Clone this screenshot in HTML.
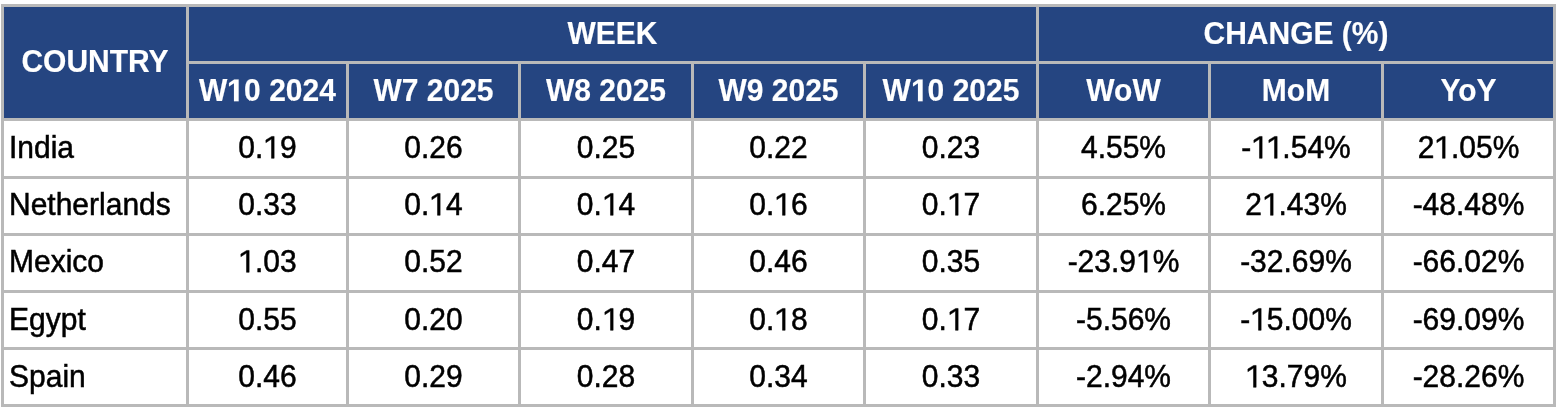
<!DOCTYPE html>
<html><head><meta charset="utf-8">
<style>
html,body{margin:0;padding:0;background:#ffffff;width:1563px;height:409px;overflow:hidden;position:relative}
.b{position:absolute}
.t{position:absolute;font-family:"Liberation Sans",sans-serif;font-size:30px;white-space:nowrap;height:40px;line-height:40px;transform:scaleY(1.06);transform-origin:50% 30px;will-change:transform}
.h{color:#ffffff;font-weight:bold;-webkit-text-stroke:0.15px #ffffff}
.one{vertical-align:baseline;overflow:visible}
.d{color:#000000;-webkit-text-stroke:0.5px #000000}
</style></head><body>
<div class="b" style="left:1px;top:4px;width:1555px;height:403px;background:#b9b9b9"></div>
<div class="b" style="left:4px;top:7px;width:182px;height:111px;background:#254581"></div>
<div class="b" style="left:189px;top:7px;width:847px;height:54px;background:#254581"></div>
<div class="b" style="left:1039px;top:7px;width:514px;height:54px;background:#254581"></div>
<div class="b" style="left:189px;top:64px;width:157px;height:54px;background:#254581"></div>
<div class="b" style="left:349px;top:64px;width:169px;height:54px;background:#254581"></div>
<div class="b" style="left:521px;top:64px;width:170px;height:54px;background:#254581"></div>
<div class="b" style="left:694px;top:64px;width:169px;height:54px;background:#254581"></div>
<div class="b" style="left:866px;top:64px;width:170px;height:54px;background:#254581"></div>
<div class="b" style="left:1039px;top:64px;width:169px;height:54px;background:#254581"></div>
<div class="b" style="left:1211px;top:64px;width:170px;height:54px;background:#254581"></div>
<div class="b" style="left:1384px;top:64px;width:169px;height:54px;background:#254581"></div>
<div class="b" style="left:4px;top:121px;width:182px;height:55px;background:#ffffff"></div>
<div class="b" style="left:189px;top:121px;width:157px;height:55px;background:#ffffff"></div>
<div class="b" style="left:349px;top:121px;width:169px;height:55px;background:#ffffff"></div>
<div class="b" style="left:521px;top:121px;width:170px;height:55px;background:#ffffff"></div>
<div class="b" style="left:694px;top:121px;width:169px;height:55px;background:#ffffff"></div>
<div class="b" style="left:866px;top:121px;width:170px;height:55px;background:#ffffff"></div>
<div class="b" style="left:1039px;top:121px;width:169px;height:55px;background:#ffffff"></div>
<div class="b" style="left:1211px;top:121px;width:170px;height:55px;background:#ffffff"></div>
<div class="b" style="left:1384px;top:121px;width:169px;height:55px;background:#ffffff"></div>
<div class="b" style="left:4px;top:179px;width:182px;height:54px;background:#ffffff"></div>
<div class="b" style="left:189px;top:179px;width:157px;height:54px;background:#ffffff"></div>
<div class="b" style="left:349px;top:179px;width:169px;height:54px;background:#ffffff"></div>
<div class="b" style="left:521px;top:179px;width:170px;height:54px;background:#ffffff"></div>
<div class="b" style="left:694px;top:179px;width:169px;height:54px;background:#ffffff"></div>
<div class="b" style="left:866px;top:179px;width:170px;height:54px;background:#ffffff"></div>
<div class="b" style="left:1039px;top:179px;width:169px;height:54px;background:#ffffff"></div>
<div class="b" style="left:1211px;top:179px;width:170px;height:54px;background:#ffffff"></div>
<div class="b" style="left:1384px;top:179px;width:169px;height:54px;background:#ffffff"></div>
<div class="b" style="left:4px;top:236px;width:182px;height:54px;background:#ffffff"></div>
<div class="b" style="left:189px;top:236px;width:157px;height:54px;background:#ffffff"></div>
<div class="b" style="left:349px;top:236px;width:169px;height:54px;background:#ffffff"></div>
<div class="b" style="left:521px;top:236px;width:170px;height:54px;background:#ffffff"></div>
<div class="b" style="left:694px;top:236px;width:169px;height:54px;background:#ffffff"></div>
<div class="b" style="left:866px;top:236px;width:170px;height:54px;background:#ffffff"></div>
<div class="b" style="left:1039px;top:236px;width:169px;height:54px;background:#ffffff"></div>
<div class="b" style="left:1211px;top:236px;width:170px;height:54px;background:#ffffff"></div>
<div class="b" style="left:1384px;top:236px;width:169px;height:54px;background:#ffffff"></div>
<div class="b" style="left:4px;top:293px;width:182px;height:54px;background:#ffffff"></div>
<div class="b" style="left:189px;top:293px;width:157px;height:54px;background:#ffffff"></div>
<div class="b" style="left:349px;top:293px;width:169px;height:54px;background:#ffffff"></div>
<div class="b" style="left:521px;top:293px;width:170px;height:54px;background:#ffffff"></div>
<div class="b" style="left:694px;top:293px;width:169px;height:54px;background:#ffffff"></div>
<div class="b" style="left:866px;top:293px;width:170px;height:54px;background:#ffffff"></div>
<div class="b" style="left:1039px;top:293px;width:169px;height:54px;background:#ffffff"></div>
<div class="b" style="left:1211px;top:293px;width:170px;height:54px;background:#ffffff"></div>
<div class="b" style="left:1384px;top:293px;width:169px;height:54px;background:#ffffff"></div>
<div class="b" style="left:4px;top:350px;width:182px;height:54px;background:#ffffff"></div>
<div class="b" style="left:189px;top:350px;width:157px;height:54px;background:#ffffff"></div>
<div class="b" style="left:349px;top:350px;width:169px;height:54px;background:#ffffff"></div>
<div class="b" style="left:521px;top:350px;width:170px;height:54px;background:#ffffff"></div>
<div class="b" style="left:694px;top:350px;width:169px;height:54px;background:#ffffff"></div>
<div class="b" style="left:866px;top:350px;width:170px;height:54px;background:#ffffff"></div>
<div class="b" style="left:1039px;top:350px;width:169px;height:54px;background:#ffffff"></div>
<div class="b" style="left:1211px;top:350px;width:170px;height:54px;background:#ffffff"></div>
<div class="b" style="left:1384px;top:350px;width:169px;height:54px;background:#ffffff"></div>
<div class="t h" style="left:3.5px;top:42px;width:182px;text-align:center">COUNTRY</div>
<div class="t h" style="left:188.5px;top:14px;width:847px;text-align:center">WEEK</div>
<div class="t h" style="left:1038.5px;top:14px;width:514px;text-align:center">CHANGE (%)</div>
<div class="t h" style="left:188.5px;top:71px;width:157px;text-align:center">W<svg class="one" style="margin-left:0px" width="16.685" height="20.640" viewBox="0 0 1139 1409"><path transform="matrix(1 0 0 -1 0 1454)" d="M478 0V1170L140 959V1180L493 1409H795V0Z" fill="currentColor" stroke="currentColor" stroke-width="10.2"/></svg>0 2024</div>
<div class="t h" style="left:348.5px;top:71px;width:169px;text-align:center">W7 2025</div>
<div class="t h" style="left:520.5px;top:71px;width:170px;text-align:center">W8 2025</div>
<div class="t h" style="left:693.5px;top:71px;width:169px;text-align:center">W9 2025</div>
<div class="t h" style="left:865.5px;top:71px;width:170px;text-align:center">W<svg class="one" style="margin-left:0px" width="16.685" height="20.640" viewBox="0 0 1139 1409"><path transform="matrix(1 0 0 -1 0 1454)" d="M478 0V1170L140 959V1180L493 1409H795V0Z" fill="currentColor" stroke="currentColor" stroke-width="10.2"/></svg>0 2025</div>
<div class="t h" style="left:1038.5px;top:71px;width:169px;text-align:center">WoW</div>
<div class="t h" style="left:1210.5px;top:71px;width:170px;text-align:center">MoM</div>
<div class="t h" style="left:1383.5px;top:71px;width:169px;text-align:center">YoY</div>
<div class="t d" style="left:9.0px;top:128px;width:176.5px;text-align:left">India</div>
<div class="t d" style="left:188.5px;top:128px;width:157px;text-align:center">0.<svg class="one" style="margin-left:0px" width="16.685" height="20.640" viewBox="0 0 1139 1409"><path transform="matrix(1 0 0 -1 0 1454)" d="M580 0V1237L197 1010V1180L595 1409H761V0Z" fill="currentColor" stroke="currentColor" stroke-width="34.1"/></svg>9</div>
<div class="t d" style="left:348.5px;top:128px;width:169px;text-align:center">0.26</div>
<div class="t d" style="left:520.5px;top:128px;width:170px;text-align:center">0.25</div>
<div class="t d" style="left:693.5px;top:128px;width:169px;text-align:center">0.22</div>
<div class="t d" style="left:865.5px;top:128px;width:170px;text-align:center">0.23</div>
<div class="t d" style="left:1038.5px;top:128px;width:169px;text-align:center">4.55%</div>
<div class="t d" style="left:1210.5px;top:128px;width:170px;text-align:center">-<svg class="one" style="margin-left:0px" width="16.685" height="20.640" viewBox="0 0 1139 1409"><path transform="matrix(1 0 0 -1 0 1454)" d="M580 0V1237L197 1010V1180L595 1409H761V0Z" fill="currentColor" stroke="currentColor" stroke-width="34.1"/></svg><svg class="one" style="margin-left:-2.219px" width="16.685" height="20.640" viewBox="0 0 1139 1409"><path transform="matrix(1 0 0 -1 0 1454)" d="M580 0V1237L197 1010V1180L595 1409H761V0Z" fill="currentColor" stroke="currentColor" stroke-width="34.1"/></svg>.54%</div>
<div class="t d" style="left:1383.5px;top:128px;width:169px;text-align:center">2<svg class="one" style="margin-left:0px" width="16.685" height="20.640" viewBox="0 0 1139 1409"><path transform="matrix(1 0 0 -1 0 1454)" d="M580 0V1237L197 1010V1180L595 1409H761V0Z" fill="currentColor" stroke="currentColor" stroke-width="34.1"/></svg>.05%</div>
<div class="t d" style="left:9.0px;top:185px;width:176.5px;text-align:left">Netherlands</div>
<div class="t d" style="left:188.5px;top:185px;width:157px;text-align:center">0.33</div>
<div class="t d" style="left:348.5px;top:185px;width:169px;text-align:center">0.<svg class="one" style="margin-left:0px" width="16.685" height="20.640" viewBox="0 0 1139 1409"><path transform="matrix(1 0 0 -1 0 1454)" d="M580 0V1237L197 1010V1180L595 1409H761V0Z" fill="currentColor" stroke="currentColor" stroke-width="34.1"/></svg>4</div>
<div class="t d" style="left:520.5px;top:185px;width:170px;text-align:center">0.<svg class="one" style="margin-left:0px" width="16.685" height="20.640" viewBox="0 0 1139 1409"><path transform="matrix(1 0 0 -1 0 1454)" d="M580 0V1237L197 1010V1180L595 1409H761V0Z" fill="currentColor" stroke="currentColor" stroke-width="34.1"/></svg>4</div>
<div class="t d" style="left:693.5px;top:185px;width:169px;text-align:center">0.<svg class="one" style="margin-left:0px" width="16.685" height="20.640" viewBox="0 0 1139 1409"><path transform="matrix(1 0 0 -1 0 1454)" d="M580 0V1237L197 1010V1180L595 1409H761V0Z" fill="currentColor" stroke="currentColor" stroke-width="34.1"/></svg>6</div>
<div class="t d" style="left:865.5px;top:185px;width:170px;text-align:center">0.<svg class="one" style="margin-left:0px" width="16.685" height="20.640" viewBox="0 0 1139 1409"><path transform="matrix(1 0 0 -1 0 1454)" d="M580 0V1237L197 1010V1180L595 1409H761V0Z" fill="currentColor" stroke="currentColor" stroke-width="34.1"/></svg>7</div>
<div class="t d" style="left:1038.5px;top:185px;width:169px;text-align:center">6.25%</div>
<div class="t d" style="left:1210.5px;top:185px;width:170px;text-align:center">2<svg class="one" style="margin-left:0px" width="16.685" height="20.640" viewBox="0 0 1139 1409"><path transform="matrix(1 0 0 -1 0 1454)" d="M580 0V1237L197 1010V1180L595 1409H761V0Z" fill="currentColor" stroke="currentColor" stroke-width="34.1"/></svg>.43%</div>
<div class="t d" style="left:1383.5px;top:185px;width:169px;text-align:center">-48.48%</div>
<div class="t d" style="left:9.0px;top:242px;width:176.5px;text-align:left">Mexico</div>
<div class="t d" style="left:188.5px;top:242px;width:157px;text-align:center"><svg class="one" style="margin-left:0px" width="16.685" height="20.640" viewBox="0 0 1139 1409"><path transform="matrix(1 0 0 -1 0 1454)" d="M580 0V1237L197 1010V1180L595 1409H761V0Z" fill="currentColor" stroke="currentColor" stroke-width="34.1"/></svg>.03</div>
<div class="t d" style="left:348.5px;top:242px;width:169px;text-align:center">0.52</div>
<div class="t d" style="left:520.5px;top:242px;width:170px;text-align:center">0.47</div>
<div class="t d" style="left:693.5px;top:242px;width:169px;text-align:center">0.46</div>
<div class="t d" style="left:865.5px;top:242px;width:170px;text-align:center">0.35</div>
<div class="t d" style="left:1038.5px;top:242px;width:169px;text-align:center">-23.9<svg class="one" style="margin-left:0px" width="16.685" height="20.640" viewBox="0 0 1139 1409"><path transform="matrix(1 0 0 -1 0 1454)" d="M580 0V1237L197 1010V1180L595 1409H761V0Z" fill="currentColor" stroke="currentColor" stroke-width="34.1"/></svg>%</div>
<div class="t d" style="left:1210.5px;top:242px;width:170px;text-align:center">-32.69%</div>
<div class="t d" style="left:1383.5px;top:242px;width:169px;text-align:center">-66.02%</div>
<div class="t d" style="left:9.0px;top:300px;width:176.5px;text-align:left">Egypt</div>
<div class="t d" style="left:188.5px;top:300px;width:157px;text-align:center">0.55</div>
<div class="t d" style="left:348.5px;top:300px;width:169px;text-align:center">0.20</div>
<div class="t d" style="left:520.5px;top:300px;width:170px;text-align:center">0.<svg class="one" style="margin-left:0px" width="16.685" height="20.640" viewBox="0 0 1139 1409"><path transform="matrix(1 0 0 -1 0 1454)" d="M580 0V1237L197 1010V1180L595 1409H761V0Z" fill="currentColor" stroke="currentColor" stroke-width="34.1"/></svg>9</div>
<div class="t d" style="left:693.5px;top:300px;width:169px;text-align:center">0.<svg class="one" style="margin-left:0px" width="16.685" height="20.640" viewBox="0 0 1139 1409"><path transform="matrix(1 0 0 -1 0 1454)" d="M580 0V1237L197 1010V1180L595 1409H761V0Z" fill="currentColor" stroke="currentColor" stroke-width="34.1"/></svg>8</div>
<div class="t d" style="left:865.5px;top:300px;width:170px;text-align:center">0.<svg class="one" style="margin-left:0px" width="16.685" height="20.640" viewBox="0 0 1139 1409"><path transform="matrix(1 0 0 -1 0 1454)" d="M580 0V1237L197 1010V1180L595 1409H761V0Z" fill="currentColor" stroke="currentColor" stroke-width="34.1"/></svg>7</div>
<div class="t d" style="left:1038.5px;top:300px;width:169px;text-align:center">-5.56%</div>
<div class="t d" style="left:1210.5px;top:300px;width:170px;text-align:center">-<svg class="one" style="margin-left:0px" width="16.685" height="20.640" viewBox="0 0 1139 1409"><path transform="matrix(1 0 0 -1 0 1454)" d="M580 0V1237L197 1010V1180L595 1409H761V0Z" fill="currentColor" stroke="currentColor" stroke-width="34.1"/></svg>5.00%</div>
<div class="t d" style="left:1383.5px;top:300px;width:169px;text-align:center">-69.09%</div>
<div class="t d" style="left:9.0px;top:357px;width:176.5px;text-align:left">Spain</div>
<div class="t d" style="left:188.5px;top:357px;width:157px;text-align:center">0.46</div>
<div class="t d" style="left:348.5px;top:357px;width:169px;text-align:center">0.29</div>
<div class="t d" style="left:520.5px;top:357px;width:170px;text-align:center">0.28</div>
<div class="t d" style="left:693.5px;top:357px;width:169px;text-align:center">0.34</div>
<div class="t d" style="left:865.5px;top:357px;width:170px;text-align:center">0.33</div>
<div class="t d" style="left:1038.5px;top:357px;width:169px;text-align:center">-2.94%</div>
<div class="t d" style="left:1210.5px;top:357px;width:170px;text-align:center"><svg class="one" style="margin-left:0px" width="16.685" height="20.640" viewBox="0 0 1139 1409"><path transform="matrix(1 0 0 -1 0 1454)" d="M580 0V1237L197 1010V1180L595 1409H761V0Z" fill="currentColor" stroke="currentColor" stroke-width="34.1"/></svg>3.79%</div>
<div class="t d" style="left:1383.5px;top:357px;width:169px;text-align:center">-28.26%</div>
</body></html>
